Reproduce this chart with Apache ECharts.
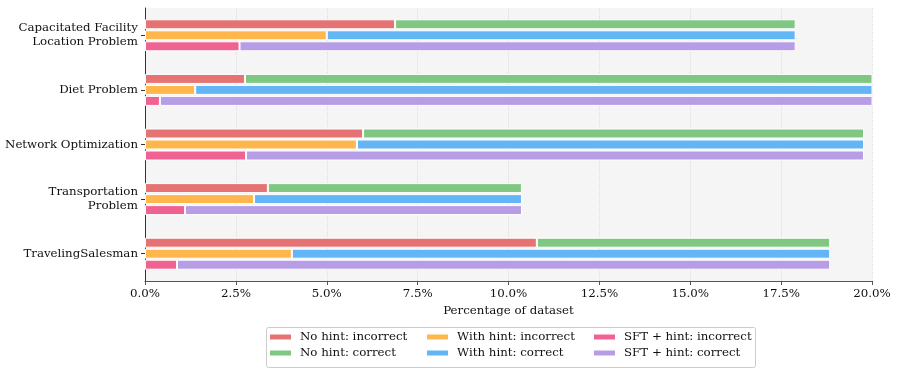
<!DOCTYPE html>
<html>
<head>
<meta charset="utf-8">
<script src="https://cdn.jsdelivr.net/npm/echarts@6/dist/echarts.min.js"></script>
<style>
html, body { margin: 0; padding: 0; background: #fff; }
#main { width: 897px; height: 372px; }
</style>
</head>
<body>
<div id="main"></div>
<script>
var categories = ['Capacitated Facility\nLocation Problem', 'Diet Problem', 'Network Optimization', 'Transportation\nProblem', 'TravelingSalesman'];

// percentage of dataset
var noHintIncorrect = [6.88, 2.75, 6.0, 3.38, 10.78];
var noHintCorrect = [11.02, 17.55, 13.78, 6.99, 8.07];
var withHintIncorrect = [5.0, 1.38, 5.83, 3.0, 4.04];
var withHintCorrect = [12.9, 18.92, 13.95, 7.37, 14.81];
var sftIncorrect = [2.6, 0.41, 2.78, 1.1, 0.88];
var sftCorrect = [15.3, 19.89, 17.0, 9.27, 17.97];

var font = 'DejaVu Serif';
var fs = 11.8;

function bar(name, stack, data, color) {
	return {
		name : name,
		type : 'bar',
		stack : stack,
		data : data,
		barWidth : 10,
		barGap : '10%',
		itemStyle : {
			color : color,
			borderColor : '#fff',
			borderWidth : 1
		}
	};
}

function legendAt(left, names) {
	return {
		orient : 'vertical',
		left : left,
		top : 326,
		itemWidth : 23,
		itemHeight : 7,
		itemGap : 4,
		icon : 'rect',
		textStyle : { fontFamily : font, fontSize : fs, color : '#111', padding : [0, 0, 0, 3] },
		data : names
	};
}

var myChart = echarts.init(document.getElementById('main'));
var option = {
	animation : false,
	backgroundColor : '#fff',
	grid : {
		left : 145,
		right : 25,
		top : 8,
		bottom : 91,
		show : true,
		backgroundColor : '#f5f5f5',
		borderWidth : 0
	},
	legend : [
		legendAt(263, [ 'No hint: incorrect', 'No hint: correct' ]),
		legendAt(420, [ 'With hint: incorrect', 'With hint: correct' ]),
		legendAt(587, [ 'SFT + hint: incorrect', 'SFT + hint: correct' ])
	],
	graphic : [ {
		type : 'rect',
		left : 264,
		top : 325,
		shape : { width : 489, height : 40, r : 2 },
		style : { fill : 'none', stroke : '#ccc', lineWidth : 1 },
		z : -1
	} ],
	xAxis : {
		type : 'value',
		min : 0,
		max : 20,
		interval : 2.5,
		name : 'Percentage of dataset',
		nameLocation : 'middle',
		nameGap : 22,
		nameTextStyle : { fontFamily : font, fontSize : fs, color : '#111' },
		axisLine : { show : true, lineStyle : { color : '#555', width : 1 } },
		axisTick : { show : true, length : 4, lineStyle : { color : '#555' } },
		axisLabel : {
			fontFamily : font,
			fontSize : fs,
			color : '#111',
			margin : 7,
			formatter : function(v) { return v.toFixed(1) + '%'; }
		},
		splitLine : { show : true, lineStyle : { color : '#ddd', type : 'dotted' } }
	},
	yAxis : {
		type : 'category',
		inverse : true,
		data : categories,
		axisLine : { show : true, lineStyle : { color : '#333', width : 1 } },
		axisTick : { show : true, alignWithLabel : true, length : 4, lineStyle : { color : '#333' } },
		axisLabel : {
			fontFamily : font,
			fontSize : fs,
			color : '#111',
			margin : 7,
			lineHeight : 14
		},
		splitLine : { show : false }
	},
	series : [
		bar('No hint: incorrect', 'nh', noHintIncorrect, '#e57373'),
		bar('No hint: correct', 'nh', noHintCorrect, '#81c784'),
		bar('With hint: incorrect', 'wh', withHintIncorrect, '#ffb74d'),
		bar('With hint: correct', 'wh', withHintCorrect, '#64b5f6'),
		bar('SFT + hint: incorrect', 'sft', sftIncorrect, '#f06292'),
		bar('SFT + hint: correct', 'sft', sftCorrect, '#b79ce6')
	]
};
myChart.setOption(option);
</script>
</body>
</html>
